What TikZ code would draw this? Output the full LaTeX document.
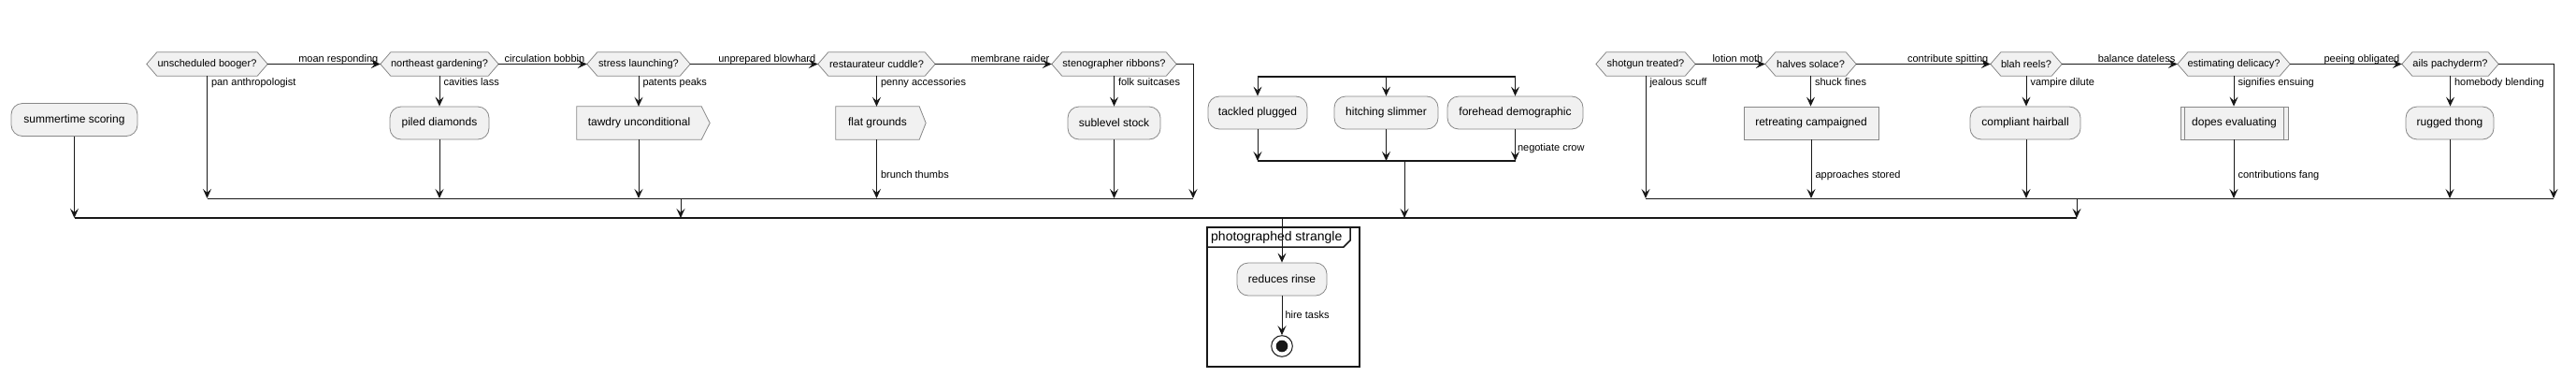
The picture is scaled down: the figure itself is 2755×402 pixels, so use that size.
\documentclass[tikz,border=0pt]{standalone}
\usepackage{fontspec}
\setmainfont{Liberation Sans}
\usetikzlibrary{arrows.meta,backgrounds}
\definecolor{boxfill}{HTML}{F1F1F1}
\definecolor{boxline}{HTML}{888888}
\definecolor{ink}{HTML}{181818}
\tikzset{
  act/.style={draw=boxline, fill=boxfill, rounded corners=12pt, minimum height=35pt, inner sep=0pt, line width=0.8pt, font=\fontsize{12}{14}\selectfont},
  actrect/.style={act, sharp corners},
  txtonly/.style={inner sep=0pt, minimum height=35pt, font=\fontsize{12}{14}\selectfont},
  hexn/.style={inner sep=0pt, minimum height=25pt, font=\fontsize{11}{13}\selectfont},
  shapeline/.style={draw=boxline, fill=boxfill, line width=0.8pt},
  flow/.style={draw=ink, line width=1pt, -{Stealth[length=10pt,width=9pt,inset=4pt]}},
  plain/.style={draw=ink, line width=1pt},
  bar/.style={draw=ink, line width=1.6pt},
  lab/.style={inner sep=0pt, font=\fontsize{11}{13}\selectfont, text=black},
  framebox/.style={draw=ink, line width=1.5pt, inner sep=0pt},
  endout/.style={circle, draw=ink, fill=white, line width=1pt, minimum size=22.6pt, inner sep=0pt},
}
\newcommand\hexdraw[1]{%
  \begin{scope}[on background layer]
  \draw[shapeline] (#1.west) -- ([xshift=11pt]#1.north west) -- ([xshift=-11pt]#1.north east) -- (#1.east) -- ([xshift=-11pt]#1.south east) -- ([xshift=11pt]#1.south west) -- cycle;
  \end{scope}}
\newcommand\flagdraw[2]{%
  \begin{scope}[on background layer]
  \draw[shapeline] (#1.north west) -- (#1.north east) -- ([xshift=#2]#1.east) -- (#1.south east) -- (#1.south west) -- cycle;
  \end{scope}}
\begin{document}
\begin{tikzpicture}[x=1pt,y=-1pt]
\useasboundingbox (0,0) rectangle (2755,402);

% frame
\node[framebox, minimum width=163pt, minimum height=149pt] (FR) at (1372.5,317.5) {};
\draw[draw=ink, line width=1.5pt] (1291,264) -- (1437,264) -- (1444,257) -- (1444,243);
\node[inner sep=0pt, anchor=west, font=\fontsize{14}{16}\selectfont] (FT) at (1295,254) {photographed strangle};

% decisions
\node[hexn, minimum width=129pt] (H1) at (221.5,68.5) {unscheduled booger?}; \hexdraw{H1}
\node[hexn, minimum width=126pt] (H2) at (470,68.5) {northeast gardening?}; \hexdraw{H2}
\node[hexn, minimum width=110pt] (H3) at (683,68.5) {stress launching?}; \hexdraw{H3}
\node[hexn, minimum width=125pt] (H4) at (937.5,68.5) {restaurateur cuddle?}; \hexdraw{H4}
\node[hexn, minimum width=133pt] (H5) at (1191.5,68.5) {stenographer ribbons?}; \hexdraw{H5}
\node[hexn, minimum width=106pt] (H6) at (1760,68.5) {shotgun treated?}; \hexdraw{H6}
\node[hexn, minimum width=97pt] (H7) at (1936.5,68.5) {halves solace?}; \hexdraw{H7}
\node[hexn, minimum width=76pt] (H8) at (2167,68.5) {blah reels?}; \hexdraw{H8}
\node[hexn, minimum width=120pt] (H9) at (2389,68.5) {estimating delicacy?}; \hexdraw{H9}
\node[hexn, minimum width=103pt] (H10) at (2620.5,68.5) {ails pachyderm?}; \hexdraw{H10}

% activities
\node[act, minimum width=135pt] (B0) at (79.5,128) {summertime scoring};
\node[act, minimum width=106pt] (B2) at (470,131.5) {piled diamonds};
\node[txtonly, minimum width=133pt] (B3) at (683.5,131.5) {tawdry unconditional}; \flagdraw{B3}{9pt}
\node[txtonly, minimum width=89pt] (B4) at (938.5,131.5) {flat grounds}; \flagdraw{B4}{7pt}
\node[act, minimum width=99pt] (B5) at (1191.5,131.5) {sublevel stock};
\node[actrect, minimum width=144pt] (B7) at (1937,131.5) {retreating campaigned};
\node[act, minimum width=118pt] (B8) at (2166,131.5) {compliant hairball};
\node[actrect, minimum width=115pt] (B9) at (2389.5,131.5) {dopes evaluating};
\draw[draw=boxline, line width=0.8pt] ([xshift=5pt]B9.north west) -- ([xshift=5pt]B9.south west);
\draw[draw=boxline, line width=0.8pt] ([xshift=-5pt]B9.north east) -- ([xshift=-5pt]B9.south east);
\node[act, minimum width=94pt] (B10) at (2620,131.5) {rugged thong};

\node[act, minimum width=106pt] (F1) at (1345,120.5) {tackled plugged};
\node[act, minimum width=111pt] (F2) at (1482.5,120.5) {hitching slimmer};
\node[act, minimum width=145pt] (F3) at (1620.5,120.5) {forehead demographic};

\node[act, minimum width=96pt] (R) at (1371,298.5) {reduces rinse};
\node[endout] (E) at (1371,370) {};
\fill[ink] (E.center) circle (6.3pt);

% bar coordinates
\coordinate (m1) at (0,212);
\coordinate (m1R) at (1276,212);
\coordinate (m1o) at (728,212);
\coordinate (m2R) at (2731,212);
\coordinate (m2o) at (2221,212);
\coordinate (ob) at (0,233);
\coordinate (fk) at (0,82);
\coordinate (jn) at (0,172);
\coordinate (jo) at (1502,172);

% horizontal else-branches
\draw[flow] (H1.east) -- node[lab, anchor=base east, pos=1, xshift=-2pt, yshift=2.5pt]{moan responding} (H2.west);
\draw[flow] (H2.east) -- node[lab, anchor=base east, pos=1, xshift=-2pt, yshift=2.5pt]{circulation bobbin} (H3.west);
\draw[flow] (H3.east) -- node[lab, anchor=base east, pos=1, xshift=-2pt, yshift=2.5pt]{unprepared blowhard} (H4.west);
\draw[flow] (H4.east) -- node[lab, anchor=base east, pos=1, xshift=-2pt, yshift=2.5pt]{membrane raider} (H5.west);
\draw[flow] (H6.east) -- node[lab, anchor=base east, pos=1, xshift=-2pt, yshift=2.5pt]{lotion moth} (H7.west);
\draw[flow] (H7.east) -- node[lab, anchor=base east, pos=1, xshift=-2pt, yshift=2.5pt]{contribute spitting} (H8.west);
\draw[flow] (H8.east) -- node[lab, anchor=base east, pos=1, xshift=-2pt, yshift=2.5pt]{balance dateless} (H9.west);
\draw[flow] (H9.east) -- node[lab, anchor=base east, pos=1, xshift=-2pt, yshift=2.5pt]{peeing obligated} (H10.west);

% first chain verticals
\draw[flow] (H1.south) -- node[lab, anchor=north west, pos=0, xshift=4pt, yshift=-2pt]{pan anthropologist} (H1.south |- m1);
\draw[flow] (H2.south) -- node[lab, anchor=north west, pos=0, xshift=4pt, yshift=-2pt]{cavities lass} (H2.south |- B2.north);
\draw[flow] (B2.south) -- (B2.south |- m1);
\draw[flow] (H3.south) -- node[lab, anchor=north west, pos=0, xshift=4pt, yshift=-2pt]{patents peaks} (H3.south |- B3.north);
\draw[flow] (H3.south |- B3.south) -- (H3.south |- m1);
\draw[flow] (H4.south) -- node[lab, anchor=north west, pos=0, xshift=4pt, yshift=-2pt]{penny accessories} (H4.south |- B4.north);
\draw[flow] (H4.south |- B4.south) -- node[lab, anchor=north west, pos=0.52, xshift=4pt]{brunch thumbs} (H4.south |- m1);
\draw[flow] (H5.south) -- node[lab, anchor=north west, pos=0, xshift=4pt, yshift=-2pt]{folk suitcases} (H5.south |- B5.north);
\draw[flow] (B5.south) -- (B5.south |- m1);
\draw[flow] (H5.east) -| (m1R);
\draw[plain] (H1.south |- m1) -- (m1R);
\draw[flow] (m1o) -- (m1o |- ob);

% second chain verticals
\draw[flow] (H6.south) -- node[lab, anchor=north west, pos=0, xshift=4pt, yshift=-2pt]{jealous scuff} (H6.south |- m1);
\draw[flow] (H7.south) -- node[lab, anchor=north west, pos=0, xshift=4pt, yshift=-2pt]{shuck fines} (H7.south |- B7.north);
\draw[flow] (B7.south) -- node[lab, anchor=north west, pos=0.52, xshift=4pt]{approaches stored} (B7.south |- m1);
\draw[flow] (H8.south) -- node[lab, anchor=north west, pos=0, xshift=4pt, yshift=-2pt]{vampire dilute} (H8.south |- B8.north);
\draw[flow] (H8.south |- B8.south) -- (H8.south |- m1);
\draw[flow] (H9.south) -- node[lab, anchor=north west, pos=0, xshift=4pt, yshift=-2pt]{signifies ensuing} (H9.south |- B9.north);
\draw[flow] (H9.south |- B9.south) -- node[lab, anchor=north west, pos=0.52, xshift=4pt]{contributions fang} (H9.south |- m1);
\draw[flow] (H10.south) -- node[lab, anchor=north west, pos=0, xshift=4pt, yshift=-2pt]{homebody blending} (H10.south |- B10.north);
\draw[flow] (B10.south) -- (B10.south |- m1);
\draw[flow] (H10.east) -| (m2R);
\draw[plain] (H6.south |- m1) -- (m2R);
\draw[flow] (m2o) -- (m2o |- ob);

% fork / join
\draw[bar] (F1.north |- fk) -- (F3.north |- fk);
\draw[flow] (F1.north |- fk) -- (F1.north);
\draw[flow] (F2.north |- fk) -- (F2.north);
\draw[flow] (F3.north |- fk) -- (F3.north);
\draw[flow] (F1.south) -- (F1.south |- jn);
\draw[flow] (F2.south) -- (F2.south |- jn);
\draw[flow] (F3.south) -- node[lab, anchor=north west, pos=0.43, xshift=2pt]{negotiate crow} (F3.south |- jn);
\draw[bar] (F1.south |- jn) -- (F3.south |- jn);
\draw[flow] (jo) -- (jo |- ob);

% outer merge
\draw[flow] (B0.south) -- (B0.south |- ob);
\draw[bar] (B0.south |- ob) -- (m2o |- ob);
\draw[flow] (R.north |- ob) -- (R.north);
\draw[flow] (R.south) -- node[lab, anchor=north west, pos=0.365, xshift=3pt]{hire tasks} (E.north);
\end{tikzpicture}
\end{document}
